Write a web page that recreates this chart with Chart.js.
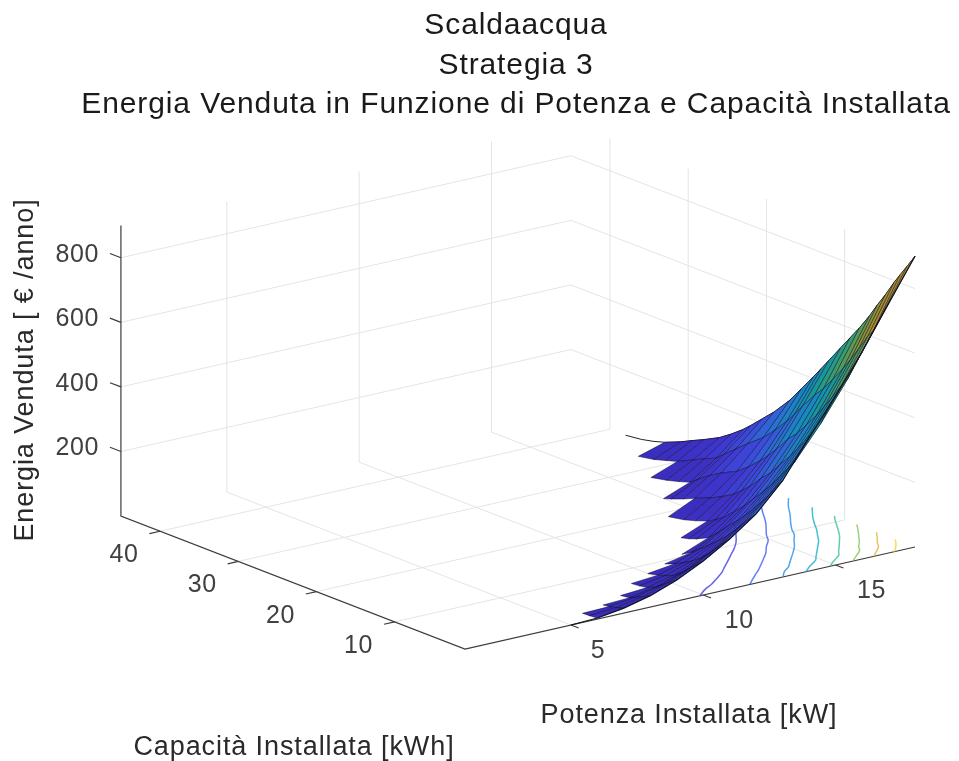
<!DOCTYPE html>
<html>
<head>
<meta charset="utf-8">
<title>Scaldaacqua</title>
<script src="https://cdn.jsdelivr.net/npm/chart.js@4/dist/chart.umd.js"></script>
<style>
    html, body { margin: 0; padding: 0; background: #fff; }
    canvas { display: block; }
</style>
</head>
<body>
<canvas id="chart" width="959" height="761"></canvas>
<script>
// capacity samples [kWh], each power column starts at the first one and stops where it reaches zero
const capacityValues = [1, 2, 2.9, 3.65, 4.8, 5.8, 6.8, 8.1, 9.3, 10.5, 12, 13, 14, 15.5, 17, 19, 20.5, 22, 23, 24.5, 26, 28, 29.5, 31, 33, 34.5, 36, 38];
const powerValues = [5, 6, 7, 8, 9, 10, 11, 12, 13, 14, 15, 16, 17, 18];

// energy sold [euro/year] for each installed power
const energyP5 = [0];
const energyP6 = [3, 1, 0];
const energyP7 = [15, 7, 2, 0];
const energyP8 = [35, 22, 12, 4, 0];
const energyP9 = [65, 48, 32, 19, 6, 2, 0];
const energyP10 = [105, 84, 62, 46, 25, 15, 7, 0];
const energyP11 = [155, 130, 105, 86, 59, 42, 28, 11, 0];
const energyP12 = [214, 187, 161, 140, 109, 87, 66, 41, 17, 0];
const energyP13 = [298, 264, 232, 209, 174, 146, 120, 90, 60, 33, 15, 6, 0];
const energyP14 = [414, 365, 318, 295, 255, 223, 193, 158, 124, 96, 62, 46, 33, 20, 9, 0];
const energyP15 = [524, 472, 420, 395, 352, 317, 283, 245, 208, 180, 140, 118, 98, 76, 58, 38, 22, 8, 0];
const energyP16 = [641, 588, 537, 512, 466, 428, 391, 349, 311, 282, 236, 208, 183, 150, 122, 98, 76, 50, 32, 20, 10, 0];
const energyP17 = [772, 720, 672, 646, 597, 556, 517, 472, 432, 398, 352, 318, 287, 245, 208, 170, 140, 110, 88, 72, 54, 31, 20, 9, 0];
const energyP18 = [900, 860, 825, 795, 745, 705, 662, 612, 570, 528, 475, 440, 405, 355, 305, 250, 215, 180, 158, 130, 105, 80, 63, 45, 25, 14, 6, 0];
const energyColumns = [energyP5, energyP6, energyP7, energyP8, energyP9, energyP10, energyP11, energyP12, energyP13, energyP14, energyP15, energyP16, energyP17, energyP18];

const powerTicks = [5, 10, 15];
const capacityTicks = [10, 20, 30, 40];
const energyTicks = [200, 400, 600, 800];
const contourLevels = [100, 200, 300, 400, 500, 600, 700, 800];

const powerLimits = [1, 18];
const capacityLimits = [1, 45];
const energyLimits = [0, 900];

// view of the box, in canvas pixels
const view = { x0: 465, y0: 649, powerX: 26.47, powerY: -6, capacityX: -7.82, capacityY: -3.02, energyY: -0.323 };

const parula = [[60, 46, 195], [68, 56, 222], [66, 85, 245], [45, 130, 240], [25, 165, 222], [30, 185, 180], [85, 198, 125], [165, 195, 70], [235, 185, 60], [250, 210, 40], [249, 251, 21]];

function project(power, capacity, energy) {
    let dp = power - powerLimits[0];
    let dc = capacity - capacityLimits[0];
    return {
        x: view.x0 + dp * view.powerX + dc * view.capacityX,
        y: view.y0 + dp * view.powerY + dc * view.capacityY + energy * view.energyY
    };
}

// shade < 1 darkens the colour, the surface is duller than its contours
function colorFor(energy, shade, alpha) {
    let t = Math.max(0, Math.min(1, energy / energyLimits[1])) * (parula.length - 1);
    let i = Math.min(parula.length - 2, Math.floor(t));
    let f = t - i;
    let c = parula[i].map((v, k) => Math.round((v + (parula[i + 1][k] - v) * f) * (shade || 1)));
    return 'rgba(' + c.join(',') + ',' + (alpha || 1) + ')';
}

function polyline(points, color, width) {
    return { data: points, borderColor: color, borderWidth: width, pointRadius: 0, fill: false, tension: 0 };
}

const marks = [];

// grid on the two back walls and on the floor
const gridColor = '#e4e4e4';
energyTicks.forEach(function (e) {
    marks.push(polyline([
        project(powerLimits[0], capacityLimits[1], e),
        project(powerLimits[1], capacityLimits[1], e),
        project(powerLimits[1], capacityLimits[0], e)
    ], gridColor, 1));
});
powerTicks.forEach(function (p) {
    marks.push(polyline([
        project(p, capacityLimits[0], 0),
        project(p, capacityLimits[1], 0),
        project(p, capacityLimits[1], energyLimits[1])
    ], gridColor, 1));
});
capacityTicks.forEach(function (c) {
    marks.push(polyline([
        project(powerLimits[0], c, 0),
        project(powerLimits[1], c, 0),
        project(powerLimits[1], c, energyLimits[1])
    ], gridColor, 1));
});

// axes and their ticks
const axisColor = '#3c3c3c';
marks.push(polyline([
    project(powerLimits[1], capacityLimits[0], 0),
    project(powerLimits[0], capacityLimits[0], 0),
    project(powerLimits[0], capacityLimits[1], 0),
    project(powerLimits[0], capacityLimits[1], energyLimits[1])
], axisColor, 1.2));
powerTicks.forEach(function (p) {
    marks.push(polyline([project(p, capacityLimits[0], 0), project(p, capacityLimits[0] - 1, 0)], axisColor, 1.2));
});
capacityTicks.forEach(function (c) {
    marks.push(polyline([project(powerLimits[0], c, 0), project(powerLimits[0] - 0.4, c, 0)], axisColor, 1.2));
});
energyTicks.forEach(function (e) {
    marks.push(polyline([project(powerLimits[0], capacityLimits[1], e), project(powerLimits[0], capacityLimits[1] + 1.4, e)], axisColor, 1.2));
});

// contour lines on the floor: for each capacity find where the level is crossed
contourLevels.forEach(function (level) {
    let pts = [];
    for (let k = 0; k < capacityValues.length; k++) {
        let found = null;
        for (let i = 0; i < powerValues.length - 1; i++) {
            let a = energyColumns[i][k];
            let b = energyColumns[i + 1][k];
            if (a === undefined) a = 0;
            if (b === undefined) continue;
            if (a <= level && b >= level) {
                found = powerValues[i] + (level - a) / (b - a);
                break;
            }
        }
        if (found === null) {
            // the level leaves through the last power column
            let last = energyP18;
            let f = (last[k - 1] - level) / (last[k - 1] - last[k]);
            pts.push(project(18, capacityValues[k - 1] + (capacityValues[k] - capacityValues[k - 1]) * f, 0));
            break;
        }
        pts.push(project(found, capacityValues[k], 0));
    }
    let line = polyline(pts, colorFor(level, 1, 0.8), 1.5);
    line.tension = 0.35;
    marks.push(line);
});

// surface, far cells first
const meshColor = 'rgba(6,6,40,0.68)';
marks.push(polyline(energyP18.map(function (e, k) {
    return project(18, capacityValues[k], e);
}), '#222', 1));
for (let i = powerValues.length - 2; i >= 0; i--) {
    let near = energyColumns[i];
    let far = energyColumns[i + 1];
    for (let k = near.length - 2; k >= 0; k--) {
        let z = [near[k], far[k], far[k + 1], near[k + 1]];
        let mean = (z[0] + z[1] + z[2] + z[3]) / 4;
        let corners = [
            project(powerValues[i], capacityValues[k], z[0]),
            project(powerValues[i + 1], capacityValues[k], z[1]),
            project(powerValues[i + 1], capacityValues[k + 1], z[2]),
            project(powerValues[i], capacityValues[k + 1], z[3])
        ];
        marks.push({
            data: corners.concat([corners[0]]),
            fill: 'shape',
            backgroundColor: colorFor(mean, 0.95 - 0.25 * mean / energyLimits[1]),
            borderColor: meshColor,
            borderWidth: 0.7,
            pointRadius: 0,
            tension: 0
        });
    }
}
// the nearest capacity row closes the surface, also where no cell hangs on it
marks.push(polyline(energyColumns.map(function (col, i) {
    return project(powerValues[i], capacityValues[0], col[0]);
}), '#14142a', 1.2));

// text that sits next to the box
const labelFont = "'Liberation Sans', sans-serif";
const textPlugin = {
    id: 'boxText',
    beforeDraw: function (chart) {
        // the title is drawn by the library, it only picks up the spacing
        chart.ctx.letterSpacing = '0.9px';
    },
    afterDraw: function (chart) {
        const ctx = chart.ctx;
        const sx = chart.scales.x;
        const sy = chart.scales.y;
        function put(text, x, y, align, rotate) {
            ctx.save();
            ctx.translate(x, y);
            if (rotate) ctx.rotate(-Math.PI / 2);
            ctx.textAlign = align;
            ctx.textBaseline = 'middle';
            ctx.fillText(text, 0, 0);
            ctx.restore();
        }
        ctx.save();
        ctx.font = '25px ' + labelFont;
        ctx.letterSpacing = '0.6px';
        ctx.fillStyle = '#404040';
        powerTicks.forEach(function (p) {
            let a = project(p, capacityLimits[0], 0);
            put(String(p), sx.getPixelForValue(a.x) + (p < 10 ? 27 : 36), sy.getPixelForValue(a.y) + 26, 'center');
        });
        capacityTicks.forEach(function (c) {
            let a = project(powerLimits[0], c, 0);
            put(String(c), sx.getPixelForValue(a.x) - 36, sy.getPixelForValue(a.y) + 24, 'center');
        });
        energyTicks.forEach(function (e) {
            let a = project(powerLimits[0], capacityLimits[1], e);
            put(String(e), sx.getPixelForValue(a.x) - 22, sy.getPixelForValue(a.y) - 3, 'right');
        });
        ctx.font = '27px ' + labelFont;
        ctx.letterSpacing = '0.9px';
        ctx.fillStyle = '#2a2a2a';
        put('Potenza Installata [kW]', 689, 716, 'center');
        put('Capacità Installata [kWh]', 294, 748, 'center');
        put('Energia Venduta [ € /anno]', 26, 370, 'center', true);
        ctx.restore();
    }
};

new Chart(document.getElementById('chart').getContext('2d'), {
    type: 'line',
    data: { datasets: marks.slice().reverse() },
    plugins: [textPlugin],
    options: {
        responsive: false,
        animation: false,
        events: [],
        // the left padding moves the centred title to where it sits in the figure
        layout: { padding: { left: 73, right: 0, top: 0, bottom: 0 } },
        plugins: {
            legend: { display: false },
            tooltip: { enabled: false },
            title: {
                display: true,
                text: ['Scaldaacqua', 'Strategia 3', 'Energia Venduta in Funzione di Potenza e Capacità Installata'],
                color: '#1a1a1a',
                font: { family: labelFont, size: 30, weight: '400', lineHeight: '39.5px' },
                padding: { top: 6, bottom: 0.5 }
            }
        },
        scales: {
            x: { type: 'linear', display: false, min: 73, max: 959 },
            y: { type: 'linear', display: false, min: 125, max: 761, reverse: true }
        }
    }
});
</script>
</body>
</html>
